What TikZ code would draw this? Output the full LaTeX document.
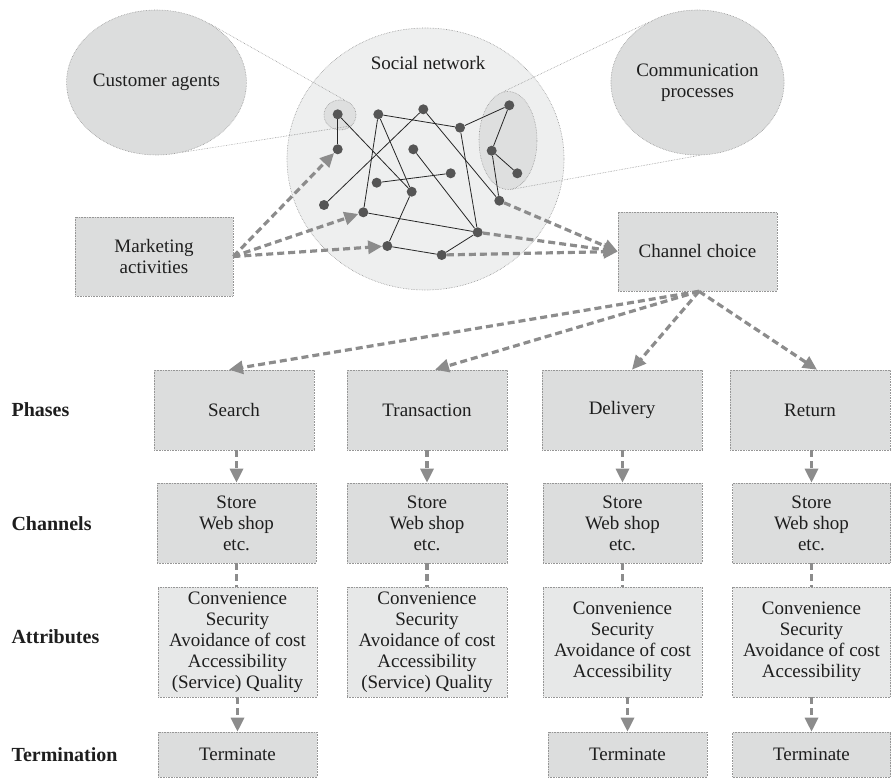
\documentclass[tikz,border=0pt]{standalone}
\usepackage{fontspec}
\setmainfont{Liberation Serif}
\usetikzlibrary{arrows.meta,shapes.geometric}
\definecolor{boxfill}{RGB}{220,221,221}
\definecolor{attrfill}{RGB}{231,232,232}
\definecolor{snfill}{RGB}{238,239,239}
\definecolor{hlfill}{RGB}{222,223,223}
\definecolor{bordc}{RGB}{150,150,150}
\definecolor{arrc}{RGB}{140,140,140}
\definecolor{netnode}{RGB}{85,85,85}
\definecolor{txt}{RGB}{30,30,30}
\begin{document}
\begin{tikzpicture}[x=1pt,y=-1pt,
  every node/.style={font=\fontsize{19}{21}\selectfont, text=txt},
  box/.style={draw=bordc, densely dotted, line width=0.6pt, fill=boxfill, align=center, inner sep=0pt},
  abox/.style={box, fill=attrfill},
  ell/.style={ellipse, draw=bordc, densely dotted, line width=0.6pt, fill=boxfill, align=center, inner sep=0pt},
  nd/.style={circle, fill=netnode, inner sep=0pt, minimum size=10pt},
  edge/.style={draw=black!85, line width=0.8pt},
  tline/.style={draw=bordc, densely dotted, line width=0.6pt},
  darr/.style={draw=arrc, line width=3.2pt, dash pattern=on 7pt off 4pt, -{Triangle[length=14pt,width=13pt,fill=arrc]}},
  dline/.style={draw=arrc, line width=3.2pt, dash pattern=on 7pt off 4pt},
  rowlab/.style={anchor=west, font=\fontsize{20}{22}\selectfont\bfseries}
]
\useasboundingbox (0,0) rectangle (891,778);

% social network
\node[ell, fill=snfill, minimum width=277pt, minimum height=262pt] (sn) at (425.5,159) {};
\node (snt) at (428,63) {Social network};

% outer ellipses
\node[ell, minimum width=159pt, minimum height=145pt] (cust) at (156.5,82.5) {Customer agents};
\node[ell, minimum width=159pt, minimum height=145pt] (comm) at (697.5,82.5) {Communication\\processes};

% highlight ellipses
\node[ell, fill=hlfill, minimum width=32pt, minimum height=30pt] (hl1) at (340,115) {};
\node[ell, fill=hlfill, minimum width=58pt, minimum height=98pt] (hl2) at (508,140.5) {};

% zoom lines
\draw[tline] (cust.48) -- (hl1.70);
\draw[tline] (cust.-70) -- (hl1.-43);
\draw[tline] (comm.129) -- (hl2.96);
\draw[tline] (comm.-88) -- (hl2.-88);

% network nodes
\node[nd] (n1) at (337.7,114.3) {};
\node[nd] (n2) at (337.7,149.3) {};
\node[nd] (n3) at (378.3,114.3) {};
\node[nd] (n4) at (423.3,109.3) {};
\node[nd] (n5) at (460,127.7) {};
\node[nd] (n6) at (509.3,105.3) {};
\node[nd] (n7) at (491.7,150.7) {};
\node[nd] (n8) at (517.3,173.3) {};
\node[nd] (n9) at (413.3,149.3) {};
\node[nd] (n10) at (450.7,173.3) {};
\node[nd] (n11) at (376.7,182.7) {};
\node[nd] (n12) at (411.7,191.7) {};
\node[nd] (n13) at (324,205) {};
\node[nd] (n14) at (363.3,212.3) {};
\node[nd] (n15) at (499.3,200.7) {};
\node[nd] (n16) at (477.7,232.3) {};
\node[nd] (n17) at (387.3,246) {};
\node[nd] (n18) at (441.7,255) {};

% network edges
\draw[edge] (n1) -- (n2);
\draw[edge] (n1) -- (n12);
\draw[edge] (n3) -- (n14);
\draw[edge] (n3) -- (n12);
\draw[edge] (n3) -- (n5);
\draw[edge] (n4) -- (n13);
\draw[edge] (n4) -- (n15);
\draw[edge] (n5) -- (n6);
\draw[edge] (n5) -- (n16);
\draw[edge] (n6) -- (n7);
\draw[edge] (n7) -- (n8);
\draw[edge] (n7) -- (n15);
\draw[edge] (n9) -- (n16);
\draw[edge] (n11) -- (n10);
\draw[edge] (n12) -- (n17);
\draw[edge] (n14) -- (n16);
\draw[edge] (n17) -- (n18);
\draw[edge] (n18) -- (n16);

% boxes top
\node[box, minimum width=158pt, minimum height=79pt] (mkt) at (154,256.5) {Marketing\\activities};
\node[box, minimum width=159pt, minimum height=79pt] (chc) at (697.5,251.5) {Channel choice};

% phases
\node[box, minimum width=160pt, minimum height=80pt] (ph1) at (234,410) {Search};
\node[box, minimum width=160pt, minimum height=80pt] (ph2) at (427,410) {Transaction};
\node[box, minimum width=160pt, minimum height=80pt] (ph3) at (622,410) {Delivery};
\node[box, minimum width=160pt, minimum height=80pt] (ph4) at (810,410) {Return};

% channels
\node[box, minimum width=159pt, minimum height=80pt] (ch1) at (236.5,523) {Store\\Web shop\\etc.};
\node[box, minimum width=160pt, minimum height=80pt] (ch2) at (427,523) {Store\\Web shop\\etc.};
\node[box, minimum width=159pt, minimum height=80pt] (ch3) at (622.5,523) {Store\\Web shop\\etc.};
\node[box, minimum width=158pt, minimum height=80pt] (ch4) at (811.5,523) {Store\\Web shop\\etc.};

% attributes
\node[abox, minimum width=159pt, minimum height=110pt] (at1) at (237.5,642) {Convenience\\Security\\Avoidance of cost\\Accessibility\\(Service) Quality};
\node[abox, minimum width=160pt, minimum height=110pt] (at2) at (427,642) {Convenience\\Security\\Avoidance of cost\\Accessibility\\(Service) Quality};
\node[abox, minimum width=159pt, minimum height=110pt] (at3) at (622.5,642) {Convenience\\Security\\Avoidance of cost\\Accessibility};
\node[abox, minimum width=158pt, minimum height=110pt] (at4) at (811.5,642) {Convenience\\Security\\Avoidance of cost\\Accessibility};

% terminate
\node[box, minimum width=159pt, minimum height=45pt] (te1) at (237.5,754.5) {Terminate};
\node[box, minimum width=159pt, minimum height=45pt] (te3) at (627.5,754.5) {Terminate};
\node[box, minimum width=158pt, minimum height=45pt] (te4) at (811.5,754.5) {Terminate};

% row labels
\node[rowlab] (lph) at (8,410) {Phases};
\node[rowlab] (lch) at (8,524) {Channels};
\node[rowlab] (lat) at (8,637) {Attributes};
\node[rowlab] (lte) at (8,755) {Termination};

% marketing arrows
\draw[darr] (mkt.east) -- (n2);
\draw[darr] (mkt.east) -- (n14);
\draw[darr] (mkt.east) -- (n17);

% to channel choice
\draw[darr] (n15) -- (chc.west);
\draw[darr] (n16) -- (chc.west);
\draw[darr] (n18) -- (chc.west);

% channel choice to phases
\coordinate (cs) at ([xshift=1.5pt]chc.south);
\draw[darr] (cs) -- ([xshift=-5pt]ph1.north);
\draw[darr] (cs) -- ([xshift=8pt]ph2.north);
\draw[darr] (cs) -- ([xshift=10pt]ph3.north);
\draw[darr] (cs) -- ([xshift=7pt]ph4.north);

% phases to channels
\draw[darr] (ph1.south -| ch1.north) -- (ch1.north);
\draw[darr] (ph2.south -| ch2.north) -- (ch2.north);
\draw[darr] (ph3.south -| ch3.north) -- (ch3.north);
\draw[darr] (ph4.south -| ch4.north) -- (ch4.north);

% channels to attributes
\draw[dline] (ch1.south) -- (at1.north -| ch1.south);
\draw[dline] (ch2.south) -- (at2.north -| ch2.south);
\draw[dline] (ch3.south) -- (at3.north -| ch3.south);
\draw[dline] (ch4.south) -- (at4.north -| ch4.south);

% attributes to terminate
\draw[darr] (at1.south -| te1.north) -- (te1.north);
\draw[darr] (at3.south -| te3.north) -- (te3.north);
\draw[darr] (at4.south -| te4.north) -- (te4.north);
\end{tikzpicture}
\end{document}
